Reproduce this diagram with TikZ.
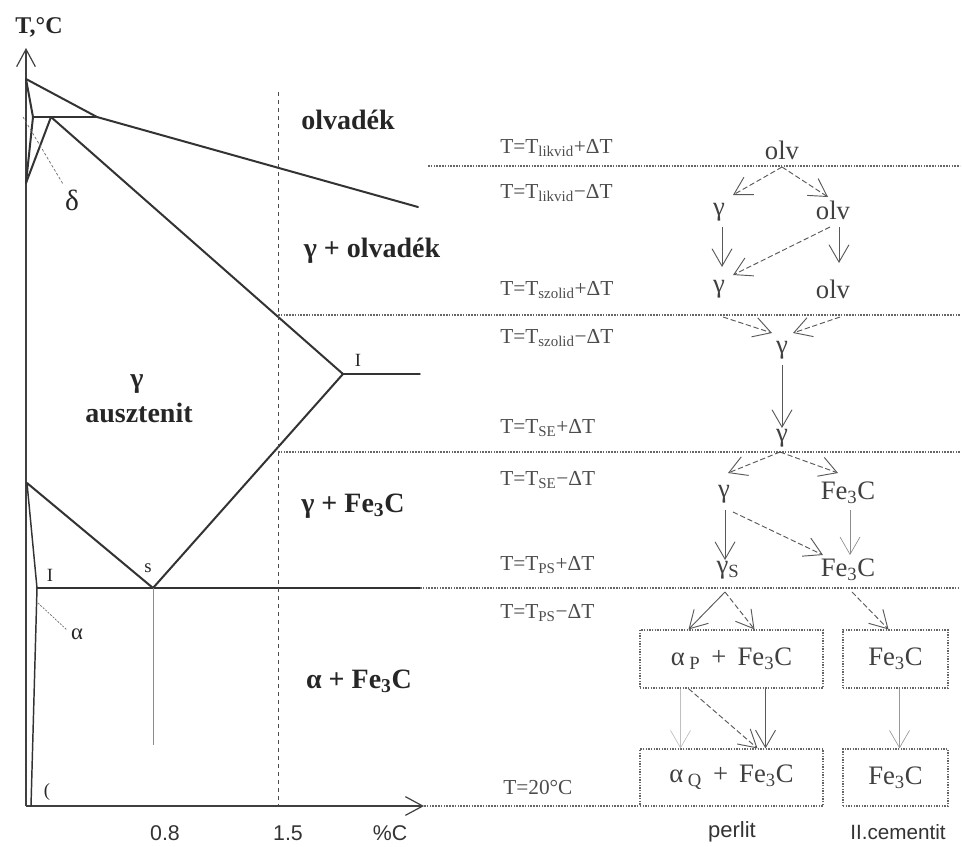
\documentclass[tikz,border=0pt]{standalone}
\usepackage{fontspec}
\setmainfont{Liberation Serif}
\setsansfont{Liberation Sans}
\usetikzlibrary{arrows.meta,calc}
\begin{document}
\begin{tikzpicture}[x=0.75pt,y=-0.75pt,
  phase/.style={line width=1.5pt, draw=black!80, line cap=round, line join=round},
  thinl/.style={line width=0.5pt, draw=black!45},
  lvl/.style={line width=0.9pt, draw=black!60, dash pattern=on 1.2pt off 0.9pt},
  reg/.style={font=\bfseries\fontsize{21}{24}\selectfont, text=black!85, inner sep=0pt},
  lbl/.style={font=\fontsize{14}{16}\selectfont, text=black!85, inner sep=0pt},
  sansl/.style={font=\sffamily\fontsize{16}{19}\selectfont, text=black!80, inner sep=0pt},
  tlab/.style={font=\fontsize{16}{19}\selectfont, text=black!70, anchor=west, inner sep=0pt},
  st/.style={font=\fontsize{20}{22}\selectfont, text=black!75, inner sep=0pt},
  bx/.style={draw=black!60, line width=0.9pt, dash pattern=on 1pt off 1pt, minimum height=43.5pt, inner sep=0pt, font=\fontsize{20}{22}\selectfont, text=black!75},
  ar/.style={draw=black!65, line width=0.7pt, -{Straight Barb[length=13pt,width=15pt]}},
  dar/.style={ar, dash pattern=on 4pt off 2pt},
  axar/.style={line width=0.9pt, draw=black!75, -{Straight Barb[length=13pt,width=14pt]}}
]
\useasboundingbox (0,0) rectangle (962,846);

% ---------------- axes ----------------
\coordinate (O) at (26,806);
\coordinate (Ytop) at (26,48);
\coordinate (Xend) at (424,806);
\draw[axar] (O) -- (Ytop);
\draw[axar] (O) -- (Xend);
\node[font=\bfseries\fontsize{18}{20}\selectfont, text=black!85, inner sep=0pt] (Tc) at (39,27) {T,°C};

% ---------------- phase boundaries ----------------
\coordinate (A) at (26,79);
\coordinate (H) at (33,117);
\coordinate (J) at (51,117);
\coordinate (B) at (97,117);
\coordinate (N) at (26,183);
\coordinate (C) at (418,207);
\coordinate (E) at (343,374);
\coordinate (Eend) at (420,374);
\coordinate (S) at (153,588);
\coordinate (G) at (27,483);
\coordinate (P) at (37,588);
\coordinate (Pend) at (420,588);
\coordinate (Q) at (31,806);
\coordinate (Sbot) at (153,745);

\draw[phase] (A) -- (B) -- (C);
\draw[phase] (H) -- (B);
\draw[phase] (A) -- (H);
\draw[phase] (H) -- (N);
\draw[phase] (J) -- (N);
\draw[phase] (J) -- (E);
\draw[phase, line width=1.1pt] (E) -- (Eend);
\draw[phase] (E) -- (S);
\draw[phase] (G) -- (S);
\draw[phase, line width=1.9pt] (P) -- (Pend);
\draw[phase, line width=1.1pt] (G) -- (P) -- (Q);
\draw[thinl] (S) -- (Sbot);
\draw[dashed, line width=0.7pt, draw=black!70] (278,92) -- (278,806);

% leaders
\coordinate (dl1) at (23,117);
\coordinate (dl2) at (63,184);
\draw[line width=0.5pt, draw=black!60, dash pattern=on 2pt off 1.5pt] (dl1) -- (dl2);
\coordinate (al1) at (38,603);
\coordinate (al2) at (67,630);
\draw[line width=0.5pt, draw=black!60, dash pattern=on 1.5pt off 1pt] (al1) -- (al2);

% small labels
\node[font=\fontsize{22}{24}\selectfont, text=black!85, inner sep=0pt] (delta) at (72,200) {δ};
\node[font=\fontsize{17}{19}\selectfont, text=black!85, inner sep=0pt] (alpha) at (77,634) {α};
\node[lbl] (I1) at (50,575) {I};
\node[lbl] (I2) at (358,360) {I};
\node[lbl] (s) at (148,568) {s};
\node[lbl] (par) at (47,792) {(};

% region labels
\node[reg] (r1) at (348,120) {olvadék};
\node[reg] (r2) at (372,251) {γ + olvadék};
\node[reg] (r3) at (137,384) {γ};
\node[reg] (r4) at (139,413) {ausztenit};
\node[reg] (r5) at (353,506) {γ + Fe\textsubscript{3}C};
\node[reg] (r6) at (359,681) {α + Fe\textsubscript{3}C};

% axis values
\node[sansl] (v1) at (165,833) {0.8};
\node[sansl] (v2) at (288,833) {1.5};
\node[sansl] (v3) at (390,833) {\%C};

% ---------------- level lines ----------------
\draw[lvl] (428,166) -- (960,166);
\draw[lvl] (278,315) -- (960,315);
\draw[lvl] (278,452) -- (960,452);
\draw[lvl] (Pend) -- (960,588);
\draw[lvl] (Xend) -- (640,806);

% temperature labels
\node[tlab] at (500,148) {T=T\textsubscript{likvid}+ΔT};
\node[tlab] at (500,193) {T=T\textsubscript{likvid}−ΔT};
\node[tlab] at (500,290) {T=T\textsubscript{szolid}+ΔT};
\node[tlab] at (500,338) {T=T\textsubscript{szolid}−ΔT};
\node[tlab] at (500,428) {T=T\textsubscript{SE}+ΔT};
\node[tlab] at (500,480) {T=T\textsubscript{SE}−ΔT};
\node[tlab] at (500,565) {T=T\textsubscript{PS}+ΔT};
\node[tlab] at (500,613) {T=T\textsubscript{PS}−ΔT};
\node[tlab] at (503,787) {T=20°C};

% ---------------- flow nodes ----------------
\node[st] (o1) at (782,150) {olv};
\node[st] (g1) at (719,212) {γ};
\node[st] (o2) at (833,210) {olv};
\node[st] (g2) at (719,289) {γ};
\node[st] (o3) at (833,289) {olv};
\node[st] (g3) at (782,350) {γ};
\node[st] (g4) at (782,438) {γ};
\node[st] (g5) at (724,494) {γ};
\node[st] (f1) at (848,493) {Fe\textsubscript{3}C};
\node[st] (gs) at (728,570) {γ\textsubscript{S}};
\node[st] (f2) at (848,570) {Fe\textsubscript{3}C};
\node[bx, minimum width=137.25pt] (b1) at (731.5,659) {α\,\textsubscript{P} \,+\, Fe\textsubscript{3}C};
\node[bx, minimum width=78.75pt] (b2) at (895.5,659) {Fe\textsubscript{3}C};
\node[bx, minimum width=137.25pt, minimum height=42.75pt] (b3) at (731.5,777.5) {α\,\textsubscript{Q} \,+\, Fe\textsubscript{3}C};
\node[bx, minimum width=78.75pt, minimum height=42.75pt] (b4) at (895.5,777.5) {Fe\textsubscript{3}C};

% ---------------- flow arrows ----------------
\draw[dar] ($(o1)+(0,17)$) -- ($(g1)+(14,-17)$);
\draw[dar] ($(o1)+(0,17)$) -- ($(o2)+(-5,-13)$);
\draw[ar]  ($(g1)+(3,15)$) -- ($(g2)+(3,-22)$);
\draw[dar] ($(o2)+(-3,17)$) -- ($(g2)+(14,-14)$);
\draw[ar]  ($(o2)+(6,17)$) -- ($(o3)+(6,-26)$);
\draw[dar] ($(g2)+(4,28)$) -- ($(g3)+(-10,-17)$);
\draw[dar] ($(o3)+(7,28)$) -- ($(g3)+(11,-17)$);
\draw[ar]  ($(g3)+(0,15)$) -- ($(g4)+(0,-10)$);
\draw[dar] ($(g4)+(-2,14)$) -- ($(g5)+(4,-21)$);
\draw[dar] ($(g4)+(-2,14)$) -- ($(f1)+(-10,-20)$);
\draw[ar]  ($(g5)+(1,16)$) -- ($(gs)+(-3,-10)$);
\draw[dar] ($(g5)+(9,18)$) -- ($(f2)+(-25,-15)$);
\draw[ar, draw=black!45, line width=0.5pt] ($(f1)+(2,17)$) -- ($(f2)+(2,-15)$);
\draw[ar]  ($(gs)+(-3,22)$) -- ($(b1.north)+(-43,0)$);
\draw[dar] ($(gs)+(-3,22)$) -- ($(b1.north)+(23,0)$);
\draw[dar] ($(f2)+(4,22)$) -- ($(b2.north)+(-7,0)$);
\draw[dar] ($(b1.south)+(-43,0)$) -- ($(b3.north)+(26,0)$);
\draw[ar]  ($(b1.south)+(34,0)$) -- ($(b3.north)+(34,0)$);
\draw[ar, draw=black!25, line width=0.5pt] ($(b1.south)+(-51,0)$) -- ($(b3.north)+(-51,0)$);
\draw[ar, draw=black!40, line width=0.5pt] ($(b2.south)+(4,0)$) -- ($(b4.north)+(4,0)$);

% bottom labels
\node[sansl, font=\sffamily\fontsize{16.5}{19}\selectfont] (pl) at (732,832) {perlit};
\node[sansl, font=\sffamily\fontsize{15.5}{18}\selectfont] (cm) at (898,832) {II.cementit};
\end{tikzpicture}
\end{document}
